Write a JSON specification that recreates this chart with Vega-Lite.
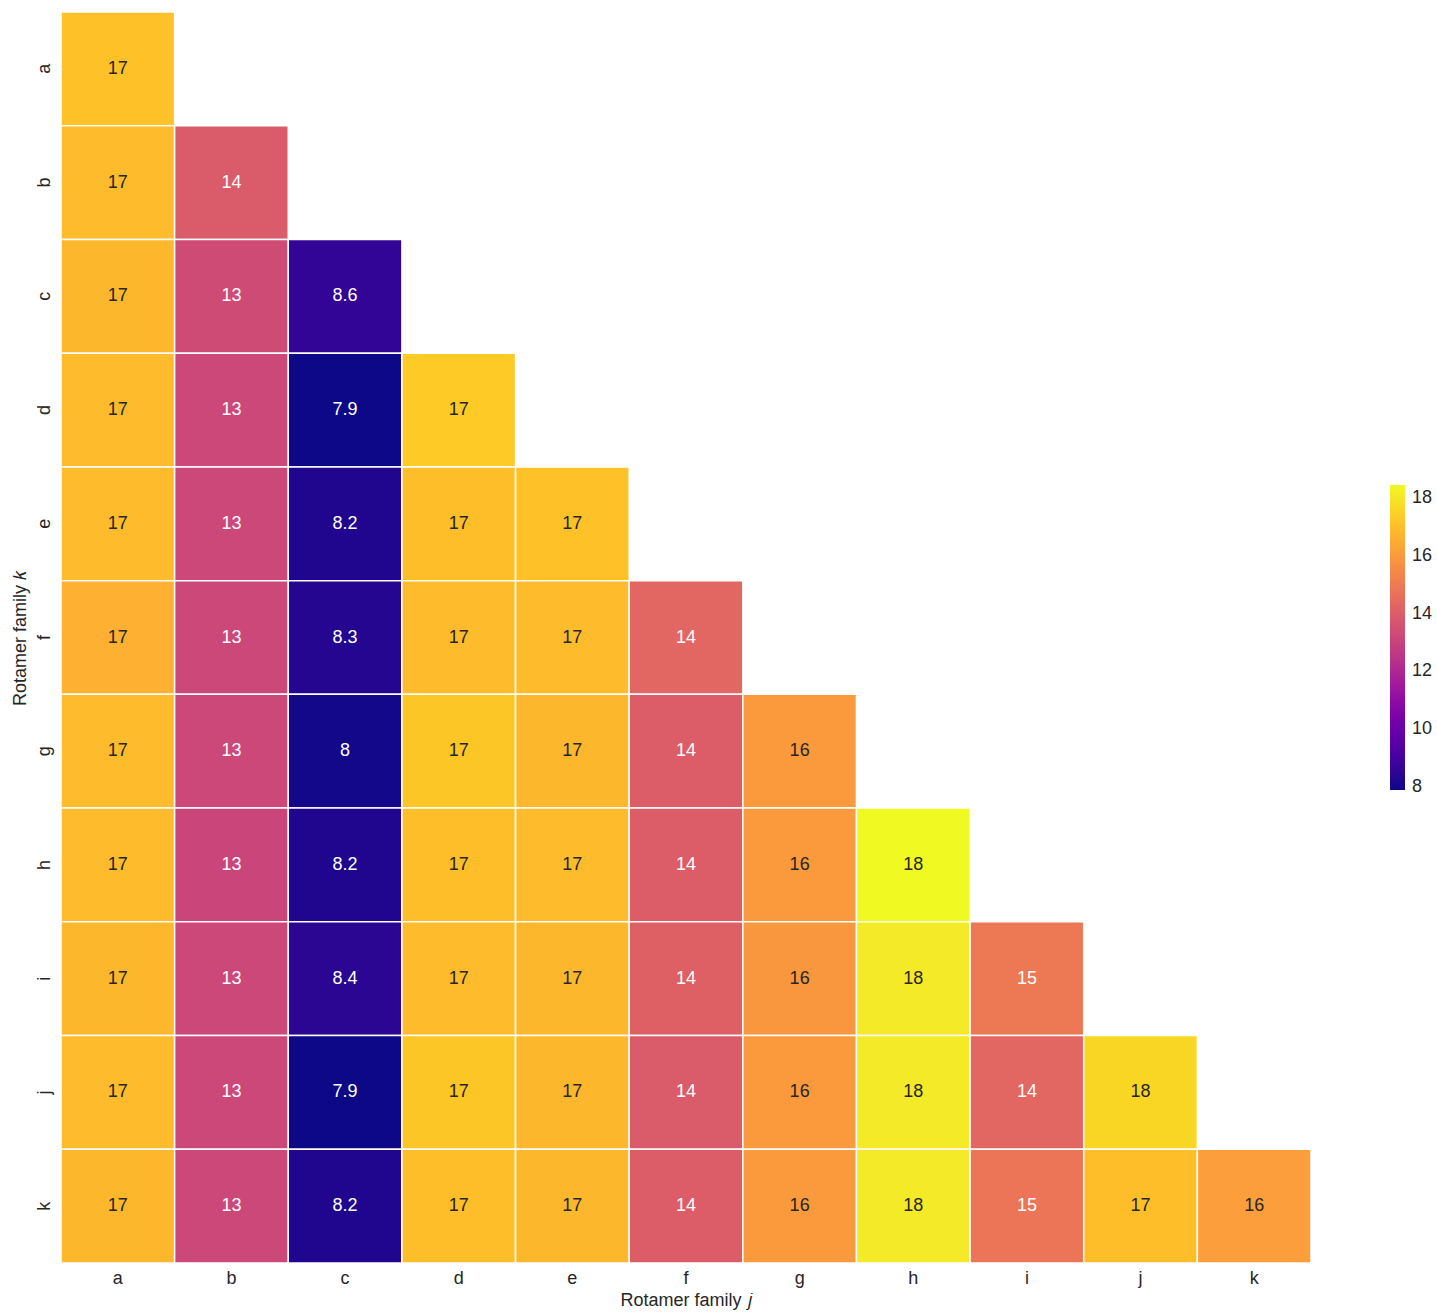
{
  "$schema": "https://vega.github.io/schema/vega-lite/v6.json",
  "width": 1250,
  "height": 1251,
  "autosize": {"type": "none"},
  "padding": {"left": 61, "top": 12, "right": 126, "bottom": 49},
  "background": "white",
  "config": {
    "view": {"stroke": null},
    "font": "Liberation Sans",
    "axis": {"labelFont": "Liberation Sans", "titleFont": "Liberation Sans", "labelColor": "#262626", "titleColor": "#262626", "labelFontSize": 18, "titleFontSize": 18, "titleFontWeight": "normal", "domain": false, "ticks": false, "grid": false},
    "legend": {"labelFont": "Liberation Sans", "labelFontSize": 18, "labelColor": "#262626"}
  },
  "data": {
    "values": [
      {"j": "a", "k": "a", "v": 17.1},
      {"j": "a", "k": "b", "v": 16.9},
      {"j": "a", "k": "c", "v": 16.8},
      {"j": "a", "k": "d", "v": 16.9},
      {"j": "a", "k": "e", "v": 16.9},
      {"j": "a", "k": "f", "v": 16.6},
      {"j": "a", "k": "g", "v": 16.9},
      {"j": "a", "k": "h", "v": 16.9},
      {"j": "a", "k": "i", "v": 16.8},
      {"j": "a", "k": "j", "v": 16.9},
      {"j": "a", "k": "k", "v": 16.8},
      {"j": "b", "k": "b", "v": 13.9},
      {"j": "b", "k": "c", "v": 13.3},
      {"j": "b", "k": "d", "v": 13.2},
      {"j": "b", "k": "e", "v": 13.2},
      {"j": "b", "k": "f", "v": 13.2},
      {"j": "b", "k": "g", "v": 13.2},
      {"j": "b", "k": "h", "v": 13.1},
      {"j": "b", "k": "i", "v": 13.2},
      {"j": "b", "k": "j", "v": 13.2},
      {"j": "b", "k": "k", "v": 13.2},
      {"j": "c", "k": "c", "v": 8.6},
      {"j": "c", "k": "d", "v": 7.9},
      {"j": "c", "k": "e", "v": 8.2},
      {"j": "c", "k": "f", "v": 8.3},
      {"j": "c", "k": "g", "v": 8.0},
      {"j": "c", "k": "h", "v": 8.2},
      {"j": "c", "k": "i", "v": 8.4},
      {"j": "c", "k": "j", "v": 7.9},
      {"j": "c", "k": "k", "v": 8.2},
      {"j": "d", "k": "d", "v": 17.3},
      {"j": "d", "k": "e", "v": 17.0},
      {"j": "d", "k": "f", "v": 16.9},
      {"j": "d", "k": "g", "v": 17.2},
      {"j": "d", "k": "h", "v": 17.0},
      {"j": "d", "k": "i", "v": 16.9},
      {"j": "d", "k": "j", "v": 17.2},
      {"j": "d", "k": "k", "v": 17.0},
      {"j": "e", "k": "e", "v": 17.1},
      {"j": "e", "k": "f", "v": 16.9},
      {"j": "e", "k": "g", "v": 16.8},
      {"j": "e", "k": "h", "v": 16.9},
      {"j": "e", "k": "i", "v": 16.8},
      {"j": "e", "k": "j", "v": 16.8},
      {"j": "e", "k": "k", "v": 16.8},
      {"j": "f", "k": "f", "v": 14.3},
      {"j": "f", "k": "g", "v": 14.0},
      {"j": "f", "k": "h", "v": 14.0},
      {"j": "f", "k": "i", "v": 14.1},
      {"j": "f", "k": "j", "v": 13.9},
      {"j": "f", "k": "k", "v": 14.0},
      {"j": "g", "k": "g", "v": 16.0},
      {"j": "g", "k": "h", "v": 16.0},
      {"j": "g", "k": "i", "v": 15.9},
      {"j": "g", "k": "j", "v": 16.0},
      {"j": "g", "k": "k", "v": 16.0},
      {"j": "h", "k": "h", "v": 18.45},
      {"j": "h", "k": "i", "v": 18.1},
      {"j": "h", "k": "j", "v": 18.1},
      {"j": "h", "k": "k", "v": 18.1},
      {"j": "i", "k": "i", "v": 14.9},
      {"j": "i", "k": "j", "v": 14.3},
      {"j": "i", "k": "k", "v": 14.8},
      {"j": "j", "k": "j", "v": 17.6},
      {"j": "j", "k": "k", "v": 17.0},
      {"j": "k", "k": "k", "v": 16.1}
    ]
  },
  "encoding": {
    "x": {
      "field": "j", "type": "nominal",
      "scale": {"domain": ["a","b","c","d","e","f","g","h","i","j","k"], "paddingInner": 0, "paddingOuter": 0},
      "axis": {"title": "Rotamer family 𝑗", "labelAngle": 0, "labelPadding": 6, "titlePadding": 4}
    },
    "y": {
      "field": "k", "type": "nominal",
      "scale": {"domain": ["a","b","c","d","e","f","g","h","i","j","k"], "paddingInner": 0, "paddingOuter": 0},
      "axis": {"title": "Rotamer family 𝑘", "labelAngle": -90, "labelPadding": 8, "titlePadding": 6}
    }
  },
  "layer": [
    {
      "mark": {"type": "rect", "stroke": "white", "strokeWidth": 1.5},
      "encoding": {
        "color": {
          "field": "v", "type": "quantitative",
          "scale": {"scheme": "plasma", "domain": [7.9, 18.45]},
          "legend": {
            "title": null, "orient": "none", "legendX": 1329, "legendY": 473,
            "direction": "vertical", "gradientLength": 305, "gradientThickness": 15,
            "gradientStrokeWidth": 0, "values": [8, 10, 12, 14, 16, 18], "labelOffset": 7,
            "labelBaseline": "middle"
          }
        }
      }
    },
    {
      "mark": {"type": "text", "fontSize": 18, "font": "Liberation Sans"},
      "encoding": {
        "text": {"field": "v", "type": "quantitative", "format": ".2~g"},
        "color": {
          "condition": {"test": "datum.v > 15.5", "value": "#262626"},
          "value": "white"
        }
      }
    }
  ]
}
